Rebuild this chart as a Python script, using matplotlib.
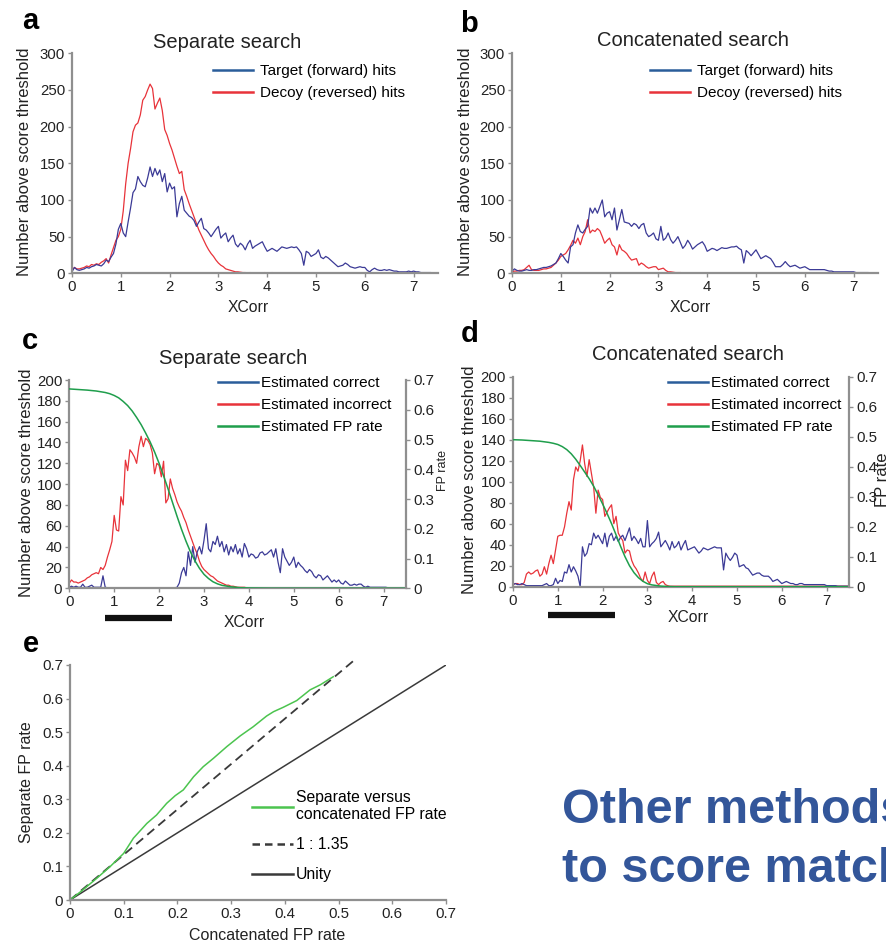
import numpy as np
import matplotlib
matplotlib.use("Agg")
import matplotlib.pyplot as plt
from matplotlib.lines import Line2D
from matplotlib.transforms import blended_transform_factory

plt.rcParams['font.family'] = ['Liberation Sans', 'DejaVu Sans']

# XCorr score grid shared by every histogram curve (step 0.05, 0 .. 7.5)
xcorr = np.round(np.arange(151) * 0.05, 2)

# a: separate search
target_sep = [
    2, 8, 5, 4, 5, 6, 8, 7, 9, 10,
    12, 11, 10, 13, 18, 16, 22, 27, 40, 60,
    68, 55, 50, 70, 89, 110, 115, 132, 125, 120,
    118, 130, 145, 132, 143, 134, 141, 125, 136, 111,
    123, 115, 118, 77, 95, 105, 86, 82, 78, 76,
    72, 64, 70, 75, 61, 59, 55, 50, 55, 60,
    64, 48, 52, 55, 43, 48, 52, 40, 36, 41,
    38, 32, 40, 45, 34, 37, 39, 41, 43, 36,
    30, 32, 34, 32, 30, 33, 36, 35, 34, 35,
    36, 35, 36, 32, 27, 11, 30, 28, 23, 25,
    27, 32, 22, 20, 23, 21, 18, 15, 12, 9,
    10, 11, 14, 12, 9, 8, 7, 8, 9, 8,
    8, 4, 2, 5, 7, 5, 4, 4, 5, 4,
    5, 4, 3, 3, 2, 2, 2, 2, 3, 2,
    3, 2, 2, 1, 1, 1, 1, 1, 0.5, 0.5,
    0.5]
decoy_sep = [
    4, 8, 6, 6, 7, 8, 10, 9, 12, 11,
    13, 12, 15, 17, 20, 14, 25, 35, 45, 50,
    60, 85, 122, 150, 170, 193, 202, 205, 216, 236,
    241, 250, 258, 252, 224, 232, 239, 222, 196, 188,
    177, 168, 157, 146, 136, 139, 114, 105, 95, 86,
    77, 68, 59, 52, 45, 38, 32, 27, 23, 18,
    14, 11, 9, 6, 5, 4, 3, 2, 2, 1.5,
    1, 1, 0.5, 1, 0.5, 0.5, 0.5, 0.5, 0.5, 1,
    0.5, 0.5, 1, 0.5, 0.5, 0.5, 0.5, 0.5, 0.5, 0.5,
    0.5, 0.5, 0.5, 0.5, 0.5, 0.5, 0.5, 0.5, 0.5, 0.5,
    0.5, 0.5, 0.5, 0.5, 0.5, 0.5, 0.5, 0.5, 0.5, 0.5,
    0.5, 0.5, 0.5, 0.5, 0.5, 0.5, 0.5, 0.5, 0.5, 0.5,
    0.5, 0.5, 0.5, 0.5, 0.5, 0.5, 0.5, 0.5, 0.5, 0.5,
    0.5, 0.5, 0.5, 0.5, 0.5, 0.5, 0.5, 0.5, 0.5, 0.5,
    0.5, 0.5, 0.5, 0.5, 0.5, 0.5, 0.5, 0.5, 0.5, 0.5,
    0.5]

# b: concatenated search
target_cat = [
    3, 6, 4, 3, 3, 4, 5, 4, 4, 5,
    5, 6, 7, 8, 8, 9, 10, 12, 14, 20,
    27, 23, 18, 14, 36, 39, 55, 66, 57, 55,
    60, 64, 89, 82, 89, 82, 91, 100, 77, 82,
    84, 73, 89, 59, 73, 87, 70, 69, 68, 64,
    68, 66, 61, 66, 68, 55, 50, 52, 55, 47,
    45, 64, 45, 48, 55, 46, 41, 45, 50, 42,
    34, 38, 45, 40, 33, 36, 39, 41, 43, 38,
    30, 32, 34, 33, 31, 33, 35, 34, 34, 35,
    36, 36, 37, 34, 32, 14, 31, 28, 24, 28,
    32, 26, 20, 22, 24, 22, 20, 15, 9, 9,
    9, 12, 16, 12, 9, 10, 11, 9, 7, 8,
    9, 7, 5, 5, 5, 5, 5, 5, 5, 4,
    3, 3, 2, 2, 2, 2, 2, 2, 2, 2,
    2, 1, 1, 1, 1, 1, 1, 0.5, 0.5, 0.5,
    0.5]
decoy_cat = [
    2, 3, 3, 4, 4, 5, 8, 11, 5, 4,
    4, 4, 5, 6, 6, 7, 8, 11, 14, 18,
    23, 25, 27, 32, 38, 45, 41, 48, 39, 50,
    57, 73, 55, 59, 57, 61, 58, 50, 41, 45,
    48, 39, 36, 25, 39, 32, 30, 27, 22, 18,
    19, 20, 11, 14, 12, 9, 7, 8, 9, 9,
    5, 6, 7, 4, 2, 2, 1.5, 1, 1, 1,
    0.5, 0.5, 0.5, 0.5, 0.5, 0.5, 0.5, 0.5, 0.5, 0.5,
    0.5, 0.5, 0.5, 0.5, 0.5, 0.5, 0.5, 0.5, 0.5, 0.5,
    0.5, 0.5, 0.5, 0.5, 0.5, 0.5, 0.5, 0.5, 0.5, 0.5,
    0.5, 0.5, 0.5, 0.5, 0.5, 0.5, 0.5, 0.5, 0.5, 0.5,
    0.5, 0.5, 0.5, 0.5, 0.5, 0.5, 0.5, 0.5, 0.5, 0.5,
    0.5, 0.5, 0.5, 0.5, 0.5, 0.5, 0.5, 0.5, 0.5, 0.5,
    0.5, 0.5, 0.5, 0.5, 0.5, 0.5, 0.5, 0.5, 0.5, 0.5,
    0.5, 0.5, 0.5, 0.5, 0.5, 0.5, 0.5, 0.5, 0.5, 0.5,
    0.5]

# c: separate search, estimated correct / incorrect
correct_sep = [
    1, 2, 1, 2, 1, 1, 4, 1, 1, 2,
    3, 1, 1, 1, 1, 12, 1, 0.5, 0.5, 0.5,
    0.5, 0.5, 0.5, 0.5, 0.5, 0.5, 0.5, 0.5, 0.5, 0.5,
    0.5, 0.5, 0.5, 0.5, 0.5, 0.5, 0.5, 0.5, 0.5, 0.5,
    0.5, 0.5, 0.5, 0.5, 0.5, 0.5, 0.5, 0.5, 1, 5,
    15, 20, 12, 35, 22, 40, 25, 35, 40, 33,
    46, 62, 38, 35, 45, 42, 50, 40, 45, 35,
    42, 32, 40, 35, 42, 33, 38, 30, 43, 38,
    30, 33, 32, 29, 30, 34, 35, 32, 33, 35,
    37, 30, 38, 25, 15, 38, 30, 26, 22, 25,
    30, 20, 25, 22, 20, 17, 15, 18, 16, 12,
    10, 13, 12, 8, 10, 12, 9, 6, 8, 6,
    8, 5, 4, 7, 5, 3, 3, 4, 3, 4,
    4, 2, 1, 2, 1, 1, 1, 1, 1, 1,
    1, 1, 0.5, 0.5, 0.5, 0.5, 0.5, 0.5, 0.5, 0.5,
    0.5]
incorrect_sep = [
    5, 8, 6, 6, 5, 6, 7, 8, 10, 11,
    13, 14, 15, 14, 20, 18, 22, 30, 37, 45,
    70, 56, 55, 88, 80, 123, 113, 133, 130, 126,
    120, 136, 146, 136, 144, 142, 138, 130, 110, 120,
    118, 107, 122, 82, 86, 105, 96, 90, 83, 78,
    74, 68, 63, 56, 50, 44, 38, 33, 26, 21,
    18, 16, 14, 12, 11, 9, 7, 6, 5, 4,
    3, 3, 2, 2, 1.5, 1, 1, 1, 1, 0.5,
    0.5, 0.5, 0.5, 0.5, 0.5, 0.5, 0.5, 0.5, 0.5, 0.5,
    0.5, 0.5, 0.5, 0.5, 0.5, 0.5, 0.5, 0.5, 0.5, 0.5,
    0.5, 0.5, 0.5, 0.5, 0.5, 0.5, 0.5, 0.5, 0.5, 0.5,
    0.5, 0.5, 0.5, 0.5, 0.5, 0.5, 0.5, 0.5, 0.5, 0.5,
    0.5, 0.5, 0.5, 0.5, 0.5, 0.5, 0.5, 0.5, 0.5, 0.5,
    0.5, 0.5, 0.5, 0.5, 0.5, 0.5, 0.5, 0.5, 0.5, 0.5,
    0.5, 0.5, 0.5, 0.5, 0.5, 0.5, 0.5, 0.5, 0.5, 0.5,
    0.5]

# d: concatenated search, estimated correct / incorrect
correct_cat = [
    2, 3, 2, 2, 3, 2, 1, 1, 1, 1,
    1, 1, 1, 1, 2, 3, 1, 1, 2, 8,
    3, 6, 5, 14, 13, 21, 14, 19, 15, 10,
    0, 38, 29, 32, 41, 40, 51, 46, 49, 45,
    41, 51, 38, 48, 51, 44, 48, 43, 47, 49,
    44, 50, 56, 44, 48, 45, 41, 46, 38, 38,
    63, 38, 41, 43, 46, 52, 38, 41, 44, 40,
    35, 43, 37, 39, 43, 35, 40, 44, 35, 36,
    37, 38, 35, 32, 34, 37, 36, 35, 36, 37,
    38, 37, 37, 37, 16, 32, 28, 25, 28, 32,
    30, 19, 20, 21, 18, 17, 14, 11, 12, 13,
    13, 11, 10, 10, 10, 8, 5, 6, 7, 5,
    3, 4, 5, 4, 3, 3, 2, 2, 3, 3,
    2, 2, 2, 2, 2, 2, 2, 2, 2, 2,
    1, 1, 1, 1, 1, 0.5, 0.5, 0.5, 0.5, 0.5,
    0.5]
incorrect_cat = [
    2, 3, 3, 2, 2, 4, 12, 14, 12, 13,
    15, 16, 10, 12, 19, 12, 22, 30, 22, 35,
    48, 49, 49, 57, 70, 81, 73, 102, 114, 110,
    120, 135, 117, 105, 121, 108, 95, 70, 92, 85,
    83, 67, 71, 75, 78, 60, 67, 51, 47, 44,
    32, 35, 34, 25, 20, 17, 13, 8, 5, 14,
    6, 3, 10, 14, 4, 2, 4, 5, 2, 1,
    0.5, 0.5, 0.5, 0.5, 0.5, 0.5, 0.5, 0.5, 0.5, 0.5,
    0.5, 0.5, 0.5, 0.5, 0.5, 0.5, 0.5, 0.5, 0.5, 0.5,
    0.5, 0.5, 0.5, 0.5, 0.5, 0.5, 0.5, 0.5, 0.5, 0.5,
    0.5, 0.5, 0.5, 0.5, 0.5, 0.5, 0.5, 0.5, 0.5, 0.5,
    0.5, 0.5, 0.5, 0.5, 0.5, 0.5, 0.5, 0.5, 0.5, 0.5,
    0.5, 0.5, 0.5, 0.5, 0.5, 0.5, 0.5, 0.5, 0.5, 0.5,
    0.5, 0.5, 0.5, 0.5, 0.5, 0.5, 0.5, 0.5, 0.5, 0.5,
    0.5, 0.5, 0.5, 0.5, 0.5, 0.5, 0.5, 0.5, 0.5, 0.5,
    0.5]

# estimated FP rate vs score threshold (right axis of c and d)
fp_x = [0, 0.2, 0.4, 0.6, 0.8, 0.9, 1.0, 1.1, 1.2, 1.3, 1.4, 1.5, 1.6, 1.7, 1.8,
        1.9, 2.0, 2.1, 2.2, 2.3, 2.4, 2.5, 2.6, 2.7, 2.8, 2.9, 3.0, 3.1, 3.2,
        3.3, 3.4, 3.6, 3.8, 4.0, 4.5, 7.5]
fp_sep = [0.670, 0.668, 0.666, 0.663, 0.658, 0.654, 0.648, 0.640, 0.628, 0.614,
          0.596, 0.574, 0.550, 0.522, 0.492, 0.458, 0.420, 0.378, 0.334, 0.288,
          0.242, 0.198, 0.158, 0.122, 0.092, 0.067, 0.047, 0.033, 0.022, 0.015,
          0.010, 0.005, 0.002, 0.001, 0, 0]
fp_cat = [0.490, 0.489, 0.487, 0.485, 0.481, 0.478, 0.474, 0.467, 0.457, 0.443,
          0.425, 0.404, 0.382, 0.360, 0.335, 0.306, 0.276, 0.244, 0.210, 0.173,
          0.135, 0.100, 0.070, 0.047, 0.030, 0.018, 0.010, 0.006, 0.004, 0.002,
          0.001, 0, 0, 0, 0, 0]

# score ranges marked under panels c and d
bar_sep = [0.80, 2.29]
bar_cat = [0.78, 2.27]

# e: separate vs concatenated FP rate
concat_fp = [0, 0.02, 0.05, 0.075, 0.1, 0.118, 0.143, 0.161, 0.18, 0.196, 0.211,
             0.23, 0.248, 0.267, 0.292, 0.317, 0.341, 0.366, 0.379, 0.397, 0.422,
             0.447, 0.466, 0.49]
separate_fp = [0, 0.025, 0.065, 0.1, 0.139, 0.184, 0.228, 0.253, 0.288, 0.311,
               0.328, 0.367, 0.397, 0.422, 0.457, 0.489, 0.516, 0.548, 0.561,
               0.574, 0.594, 0.626, 0.641, 0.665]
ratio = 1.35
ratio_x = [0, 0.53]
unity = [0, 0.7]

BLUE = '#3b3a96'
RED = '#e8333a'
GREEN = '#1f9e4c'
LGREEN = '#4cc44f'
LEG_BLUE = '#2a5d9a'
SPINE = '#8f8f8f'
TXT = '#222222'

W, H = 887, 947
fig = plt.figure(figsize=(W / 100, H / 100), dpi=100)


def rect(left, right, top, bottom):
    return [left / W, 1 - bottom / H, (right - left) / W, (bottom - top) / H]


def ftext(x, y, s, **kw):
    kw.setdefault('color', TXT)
    fig.text(x / W, 1 - y / H, s, **kw)


def style(ax, sides=('left', 'bottom')):
    for side in ['top', 'right', 'left', 'bottom']:
        ax.spines[side].set_visible(side in sides)
        ax.spines[side].set_color(SPINE)
        ax.spines[side].set_linewidth(1.6)
    ax.tick_params(direction='out', length=3, width=1, color=SPINE,
                   labelcolor=TXT, labelsize=10.8, pad=2)


def legend(ax, handles, labels, x, y, pad=0.5):
    ax.legend(handles, labels, loc='upper left', bbox_to_anchor=(x / W, 1 - y / H),
              bbox_transform=fig.transFigure, frameon=False, fontsize=11,
              handlelength=2.6, handletextpad=pad, labelspacing=0.53,
              borderpad=0, borderaxespad=0)


def handle(color):
    return Line2D([], [], color=color, lw=1.8)


# ---- a and b: score distributions ----
hist_panels = [
    (rect(72, 438, 53.3, 273.3), target_sep, decoy_sep, 'a', 22, 29,
     'Separate search', 227, 42, 25, 213, 64, 248),
    (rect(512, 878, 53.3, 273.3), target_cat, decoy_cat, 'b', 460, 32,
     'Concatenated search', 693, 40, 466, 650, 64, 690),
]
for pos, target, decoy, letter, lx, ly, title, tx, ty, yl_x, leg_x, leg_y, xl_x in hist_panels:
    ax = fig.add_axes(pos)
    style(ax)
    ax.plot(xcorr, decoy, color=RED, lw=0.9)
    ax.plot(xcorr, target, color=BLUE, lw=0.9)
    ax.set_xlim(0, 7.5)
    ax.set_ylim(0, 300)
    ax.set_xticks(range(8))
    ax.set_yticks(range(0, 301, 50))
    legend(ax, [handle(LEG_BLUE), handle(RED)],
           ['Target (forward) hits', 'Decoy (reversed) hits'], leg_x, leg_y)
    ftext(lx, ly, letter, fontsize=21, fontweight='bold', color='black', va='baseline')
    ftext(tx, ty, title, fontsize=14.5, ha='center', va='center')
    ftext(yl_x, 162, 'Number above score threshold', fontsize=12, rotation=90,
          ha='center', va='center')
    ftext(xl_x, 308, 'XCorr', fontsize=11.3, ha='center', va='center')

# ---- c and d: correct / incorrect estimates with FP rate ----
est_panels = [
    (rect(69.3, 406, 380, 588.3), correct_sep, incorrect_sep, fp_sep, bar_sep, -0.141,
     'c', 22, 349, 'Separate search', 233, 358, 27, 483, 218, 376, 244, 622,
     443, 470, 9),
    (rect(513, 849, 376.7, 586.7), correct_cat, incorrect_cat, fp_cat, bar_cat, -0.135,
     'd', 461, 342, 'Concatenated search', 688, 355, 470, 480, 668, 376, 688, 618,
     883, 480, 12),
]
for (pos, correct, incorrect, fp, bar, bar_y, letter, lx, ly, title, tx, ty,
     yl_x, yl_y, leg_x, leg_y, xl_x, xl_y, fl_x, fl_y, fl_size) in est_panels:
    ax = fig.add_axes(pos)
    style(ax)
    ax.plot(xcorr, incorrect, color=RED, lw=0.9)
    ax.plot(xcorr, correct, color=BLUE, lw=0.9)
    ax.set_xlim(0, 7.5)
    ax.set_ylim(0, 200)
    ax.set_xticks(range(8))
    ax.set_yticks(range(0, 201, 20))

    ax2 = ax.twinx()
    style(ax2, sides=('right',))
    ax2.plot(fp_x, fp, color=GREEN, lw=1.1)
    ax2.set_ylim(0, 0.7)
    ax2.set_yticks(np.arange(8) / 10)
    ax2.set_yticklabels(['0'] + ['%.1f' % (v / 10) for v in range(1, 8)])

    trans = blended_transform_factory(ax.transData, ax.transAxes)
    ax.plot(bar, [bar_y, bar_y], color='#111111', lw=4.5, transform=trans,
            clip_on=False, solid_capstyle='butt')

    legend(ax2, [handle(LEG_BLUE), handle(RED), handle(GREEN)],
           ['Estimated correct', 'Estimated incorrect', 'Estimated FP rate'],
           leg_x, leg_y, pad=0.2)
    ftext(lx, ly, letter, fontsize=21, fontweight='bold', color='black', va='baseline')
    ftext(tx, ty, title, fontsize=14.5, ha='center', va='center')
    ftext(yl_x, yl_y, 'Number above score threshold', fontsize=12, rotation=90,
          ha='center', va='center')
    ftext(xl_x, xl_y, 'XCorr', fontsize=11.3, ha='center', va='center')
    ftext(fl_x, fl_y, 'FP rate', fontsize=fl_size, rotation=90, ha='center', va='center')

# ---- e: separate vs concatenated FP rate ----
axe = fig.add_axes(rect(70, 446, 665, 900))
style(axe)
axe.plot(unity, unity, color='#3a3a3a', lw=1.1)
axe.plot(ratio_x, [ratio * v for v in ratio_x], color='#3a3a3a', lw=1.3,
         dashes=(5, 3), clip_on=False)
axe.plot(concat_fp, separate_fp, color=LGREEN, lw=1.1)
axe.set_xlim(0, 0.7)
axe.set_ylim(0, 0.7)
ticks = np.arange(8) / 10
tick_labels = ['0'] + ['%.1f' % (v / 10) for v in range(1, 8)]
axe.set_xticks(ticks)
axe.set_xticklabels(tick_labels)
axe.set_yticks(ticks)
axe.set_yticklabels(tick_labels)
e_handles = [handle(LGREEN), Line2D([], [], color='#3a3a3a', lw=1.8, dashes=(3, 2)),
             handle('#3a3a3a')]
axe.legend(e_handles, ['Separate versus\nconcatenated FP rate', '1 : 1.35', 'Unity'],
           loc='upper left', bbox_to_anchor=(252 / W, 1 - 790 / H),
           bbox_transform=fig.transFigure, frameon=False, fontsize=11.3,
           handlelength=2.6, handletextpad=0.2, labelspacing=0.95,
           borderpad=0, borderaxespad=0)
ftext(23, 652, 'e', fontsize=21, fontweight='bold', color='black', va='baseline')
ftext(27, 782, 'Separate FP rate', fontsize=11.5, rotation=90, ha='center', va='center')
ftext(267, 935, 'Concatenated FP rate', fontsize=11.5, ha='center', va='center')

# slide heading at the lower right
ftext(562, 823, 'Other methods', fontsize=35, fontweight='bold', color='#33569a',
      va='baseline')
ftext(562, 882, 'to score matches', fontsize=35, fontweight='bold', color='#33569a',
      va='baseline')

fig.savefig('out.png', dpi=100)
